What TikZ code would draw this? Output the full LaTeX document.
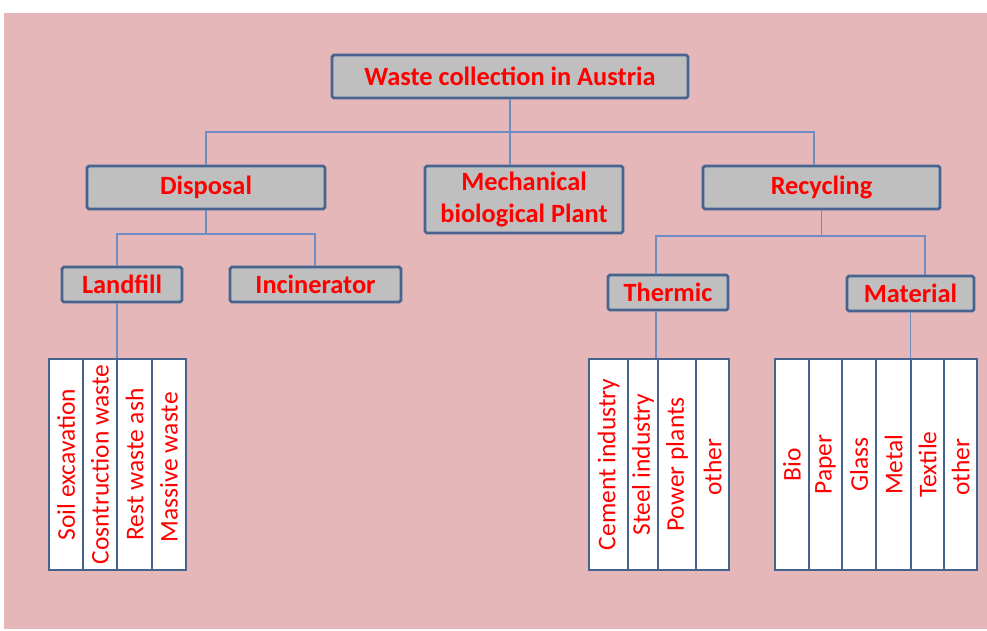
\documentclass[tikz,border=0pt]{standalone}
\usepackage{fontspec}
\setmainfont{Carlito}
\usepackage{graphicx}

\definecolor{bgpink}{HTML}{E5B7B8}
\definecolor{boxgray}{HTML}{BFBFBF}
\definecolor{edgeblue}{HTML}{45648F}
\definecolor{linkblue}{HTML}{6E8DC4}

\begin{document}
\begin{tikzpicture}[x=0.02cm, y=-0.02cm,
        catbox/.style={draw=edgeblue, line width=1.6pt, fill=boxgray, rounded corners=1pt,
            text=red, font=\fontsize{15}{18.5}\selectfont\bfseries, inner sep=0pt, align=center},
        col/.style={draw=edgeblue, line width=1.6pt, fill=white, text=red,
            font=\fontsize{14.5}{18}\selectfont, inner sep=0pt, minimum height=211*0.02cm},
        link/.style={draw=linkblue, line width=1pt}]
        \def\px{0.02cm}
        \def\stripy{464.5}

        % Frame
        \useasboundingbox (0,0) rectangle (987,630);
        \fill[bgpink] (4,13) rectangle (987,629);

        % Category boxes: top level
        \node[catbox, minimum width=356*\px, minimum height=43*\px] (top) at (510,76.5) {Waste collection in Austria};
        \node[catbox, minimum width=238*\px, minimum height=43*\px] (disp) at (206,187.5) {Disposal};
        \node[catbox, minimum width=198*\px, minimum height=67*\px] (mbp) at (524,199.5) {Mechanical\\biological Plant};
        \node[catbox, minimum width=237*\px, minimum height=43*\px] (rec) at (821.5,187.5) {Recycling};

        % Category boxes: second level
        \node[catbox, minimum width=120*\px, minimum height=35*\px] (land) at (122,284.5) {Landfill};
        \node[catbox, minimum width=171*\px, minimum height=35*\px] (inc) at (315.5,284.5) {Incinerator};
        \node[catbox, minimum width=120*\px, minimum height=35*\px] (therm) at (668,292.5) {Thermic};
        \node[catbox, minimum width=127*\px, minimum height=35*\px] (mat) at (910.5,293.5) {Material};

        % Strips: {number}/{left}/{right}/{label}
        \foreach \n/\xa/\xb/\txt in {
            1/49/83/Soil excavation,
            2/83/117/Cosntruction waste,
            3/117/152/Rest waste ash,
            4/152/186/Massive waste
        } {
            \node[col, minimum width={(\xb-\xa)*\px}] (land\n) at ({(\xa+\xb)/2},\stripy) {\rotatebox{90}{\txt}};
        }
        \foreach \n/\xa/\xb/\txt in {
            1/589/628/Cement industry,
            2/628/658/Steel industry,
            3/658/696/Power plants,
            4/696/729/other
        } {
            \node[col, minimum width={(\xb-\xa)*\px}] (therm\n) at ({(\xa+\xb)/2},\stripy) {\rotatebox{90}{\txt}};
        }
        \foreach \n/\xa/\xb/\txt in {
            1/775/809/Bio,
            2/809/842/Paper,
            3/842/876/Glass,
            4/876/911/Metal,
            5/911/944/Textile,
            6/944/977/other
        } {
            \node[col, minimum width={(\xb-\xa)*\px}] (mat\n) at ({(\xa+\xb)/2},\stripy) {\rotatebox{90}{\txt}};
        }

        % Bus points
        \coordinate (busL) at (206,132);
        \coordinate (busR) at (814,132);
        \coordinate (dL) at (117,234);
        \coordinate (dR) at (315,234);
        \coordinate (rL) at (656,236);
        \coordinate (rR) at (925,236);

        % Connectors
        \draw[link] (top.south) -- (top.south |- mbp.north);
        \draw[link] (busL |- disp.north) -- (busL) -- (busR) -- (busR |- rec.north);
        \draw[link] (disp.south) -- (disp.south |- dL);
        \draw[link] (dL |- land.north) -- (dL) -- (dR) -- (dR |- inc.north);
        \draw[link] (rec.south) -- (rec.south |- rL);
        \draw[link] (rL |- therm.north) -- (rL) -- (rR) -- (rR |- mat.north);
        \draw[link] (dL |- land.south) -- (dL |- land2.north);
        \draw[link] (rL |- therm.south) -- (rL |- therm2.north);
        \draw[link] (mat.south) -- (mat.south |- mat5.north);
    \end{tikzpicture}
\end{document}
